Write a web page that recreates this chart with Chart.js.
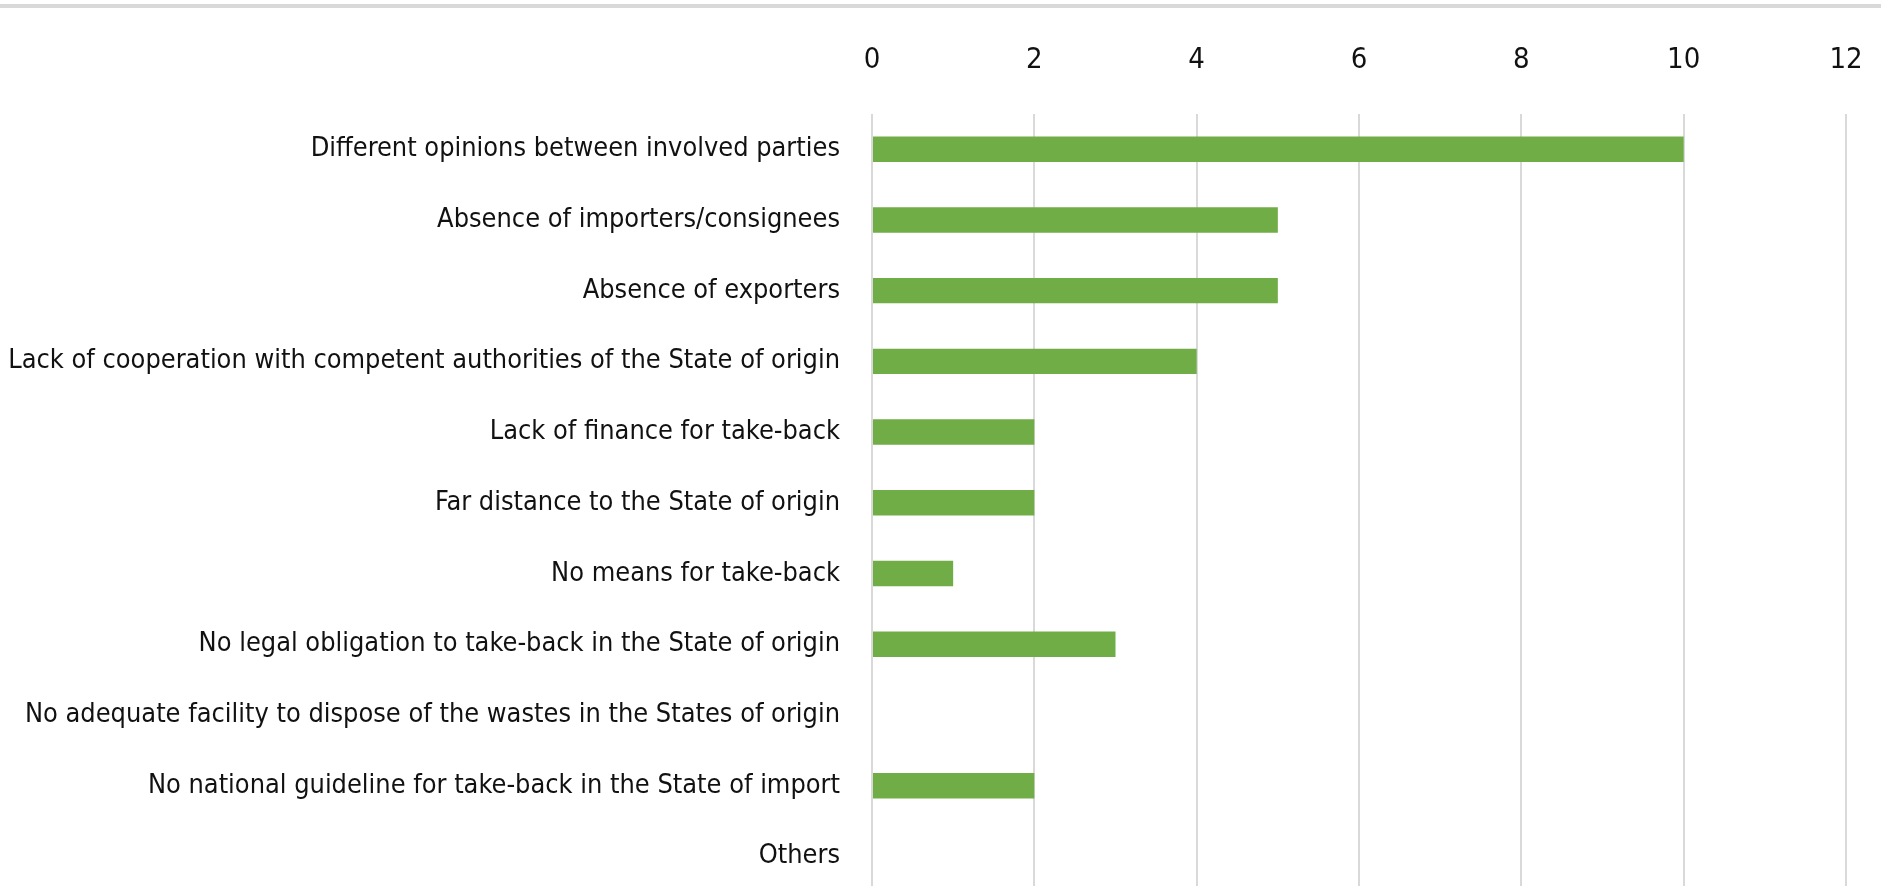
<!DOCTYPE html>
<html>
<head>
<meta charset="utf-8">
<script src="https://cdn.jsdelivr.net/npm/chart.js@4/dist/chart.umd.min.js"></script>
<style>
    html, body { margin: 0; padding: 0; background: #fff; overflow: hidden; }
    .topline { position: absolute; left: 0; top: 4px; width: 1881px; height: 4px; background: #d9d9d9; }
    .wrap { position: absolute; left: 0; top: 0; width: 1881px; height: 908px; }
</style>
</head>
<body>
<div class="topline"></div>
<div class="wrap"><canvas id="reasons-chart" width="1881" height="908" style="width:1881px;height:908px"></canvas></div>
<script>
// Reasons for failed take-back (number of responses)
const categories = [
    'Different opinions between involved parties',
    'Absence of importers/consignees',
    'Absence of exporters',
    'Lack of cooperation with competent authorities of the State of origin',
    'Lack of finance for take-back',
    'Far distance to the State of origin',
    'No means for take-back',
    'No legal obligation to take-back in the State of origin',
    'No adequate facility to dispose of the wastes in the States of origin',
    'No national guideline for take-back in the State of import',
    'Others'
];
const counts = [10, 5, 5, 4, 2, 2, 1, 3, 0, 2, 0];
const xTicks = [0, 2, 4, 6, 8, 10, 12];

const labelFont = '"Liberation Sans Narrow", "DejaVu Sans Condensed", "Liberation Sans", sans-serif';

const ctx = document.getElementById('reasons-chart').getContext('2d');
const reasonsChart = new Chart(ctx, {
    type: 'bar',
    data: {
        labels: categories,
        datasets: [
            {
                label: 'Responses',
                data: counts,
                backgroundColor: '#70AD47',
                borderWidth: 0,
                barPercentage: 0.36,
                categoryPercentage: 1.0
            }
        ]
    },
    options: {
        indexAxis: 'y',
        responsive: false,
        animation: false,
        layout: {
            padding: { left: 0, right: 35, top: 43, bottom: 0 }
        },
        scales: {
            x: {
                position: 'top',
                min: 0,
                max: 12,
                afterBuildTicks: function(scale) {
                    scale.ticks = xTicks.map(v => ({ value: v }));
                },
                // transparent tick marks keep the labels up top without padding the sides
                grid: {
                    color: '#d9d9d9',
                    lineWidth: 2,
                    drawTicks: true,
                    tickLength: 36,
                    tickColor: 'rgba(0,0,0,0)'
                },
                border: { display: false },
                ticks: {
                    padding: 0,
                    color: '#111',
                    font: { family: labelFont, size: 29 }
                }
            },
            y: {
                afterFit: function(scale) {
                    scale.width = 872;
                },
                // invisible tick marks give the gap between labels and bars
                grid: {
                    display: true,
                    drawOnChartArea: false,
                    drawTicks: true,
                    tickLength: 32,
                    color: 'rgba(0,0,0,0)'
                },
                border: { display: false },
                ticks: {
                    padding: 0,
                    color: '#111',
                    autoSkip: false,
                    font: { family: labelFont, size: 26.9 }
                }
            }
        },
        plugins: {
            legend: { display: false },
            tooltip: { enabled: false }
        }
    }
});
</script>
</body>
</html>
